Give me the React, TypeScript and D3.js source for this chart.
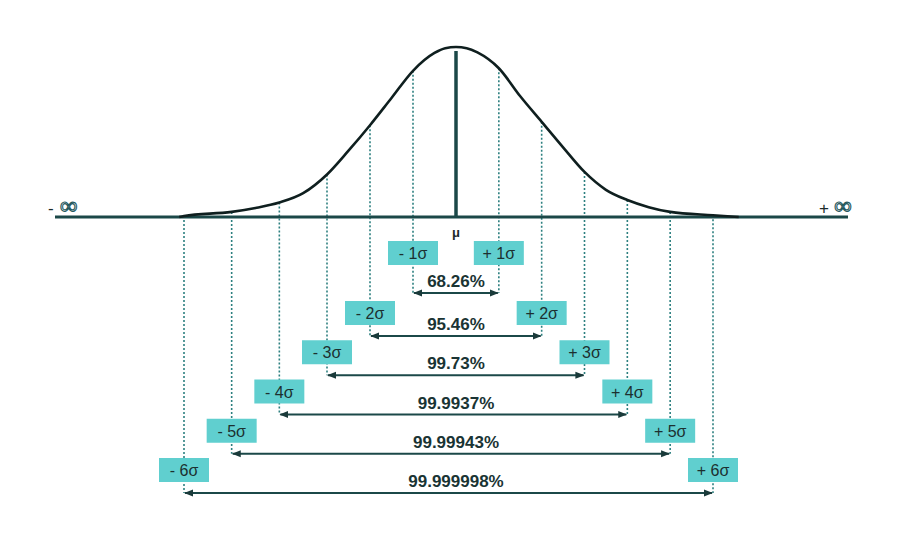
import React from "react";
import * as d3 from "d3";

// ---- data ----
const sigmaLevels = [1, 2, 3, 4, 5, 6];
const coverage = ["68.26%", "95.46%", "99.73%", "99.9937%", "99.99943%", "99.999998%"];
// bell curve: position in sigma units, relative height (peak = 1)
const curveSigma = [-6.1, -6, -5, -4.5, -4, -3.5, -3, -2.5, -2, -1.5, -1, -0.5, -0.25, 0, 0.25, 0.5, 1, 1.5, 2, 2.5, 3, 3.5, 4, 4.5, 5, 6, 6.6];
const curveHeight = [0, 0.006, 0.03, 0.053, 0.085, 0.14, 0.25, 0.39, 0.54, 0.70, 0.86, 0.965, 0.993, 1, 0.993, 0.968, 0.875, 0.71, 0.56, 0.41, 0.265, 0.16, 0.1, 0.058, 0.03, 0.01, 0];

const W = 900;
const H = 533;

export default function App() {
  const x = d3.scaleLinear().domain([-6, -3, 0, 6]).range([184, 327, 456, 713]);
  const y = d3.scaleLinear().domain([0, 1]).range([217, 47]);
  const rowY = d3.scaleLinear().domain([1, 2, 6]).range([293, 336, 493]);

  const pts: [number, number][] = curveSigma.map((s, i) => [s, curveHeight[i]]);
  const line = d3
    .line<[number, number]>()
    .x((d) => x(d[0]))
    .y((d) => y(d[1]))
    .curve(d3.curveMonotoneX);

  const heightAt = (s: number) => {
    const i = curveSigma.indexOf(s);
    return i >= 0 ? curveHeight[i] : 0;
  };

  const dark = "#1b4848";
  const teal = "#2d8080";
  const boxFill = "#60cfcf";
  const font = "'Liberation Sans', Arial, sans-serif";
  const boxW = 50;
  const boxH = 24;

  return (
    <svg width={W} height={H} style={{ display: "block", position: "absolute", left: 0, top: 0 }}>
      <defs>
        <marker id="ah" viewBox="0 0 10 10" refX="9" refY="5" markerWidth="9" markerHeight="9" markerUnits="userSpaceOnUse" orient="auto-start-reverse">
          <path d="M0,1 L10,5 L0,9 Z" fill="#1a3a3a" />
        </marker>
      </defs>
      <rect width={W} height={H} fill="#ffffff" />

      {/* dotted sigma lines */}
      {sigmaLevels.flatMap((k) =>
        [-k, k].map((s) => (
          <line
            key={"v" + s}
            x1={x(s)}
            x2={x(s)}
            y1={y(heightAt(s))}
            y2={rowY(k)}
            stroke={teal}
            strokeWidth={1.6}
            strokeDasharray="2,2"
          />
        ))
      )}

      {/* baseline */}
      <line x1={55} x2={848} y1={y(0)} y2={y(0)} stroke={dark} strokeWidth={3} />

      {/* curve */}
      <path d={line(pts) || ""} fill="none" stroke="#0f1f1f" strokeWidth={2.6} />

      {/* mean line */}
      <line x1={x(0)} x2={x(0)} y1={y(1) + 4} y2={y(0)} stroke={dark} strokeWidth={3.5} />

      {/* infinity labels */}
      <text x={48} y={214} fontFamily={font} fontSize={17} fill="#1a2a2a">
        -
        <tspan dx={6} fill="none" stroke="#24585e" strokeWidth={1.1} fontSize={25}>∞</tspan>
      </text>
      <text x={819} y={214} fontFamily={font} fontSize={17} fill="#1a2a2a">
        +
        <tspan dx={5} fill="none" stroke="#24585e" strokeWidth={1.1} fontSize={25}>∞</tspan>
      </text>
      <text x={x(0)} y={237} textAnchor="middle" fontFamily={font} fontSize={13} fontWeight="bold" fill="#1a2a2a">
        μ
      </text>

      {/* rows */}
      {sigmaLevels.map((k, i) => {
        const ay = rowY(k);
        const by = k === 1 ? ay - 40 : ay - 23;
        return (
          <g key={"r" + k}>
            <line
              x1={x(-k) + 1}
              x2={x(k) - 1}
              y1={ay}
              y2={ay}
              stroke={dark}
              strokeWidth={2}
              markerStart="url(#ah)"
              markerEnd="url(#ah)"
            />
            <text
              x={x(0)}
              y={ay - 6}
              textAnchor="middle"
              fontFamily={font}
              fontSize={17}
              fontWeight="bold"
              fill="#1a3434"
            >
              {coverage[i]}
            </text>
            {[-k, k].map((s) => (
              <g key={"b" + s}>
                <rect x={x(s) - boxW / 2} y={by - boxH / 2} width={boxW} height={boxH} fill={boxFill} />
                <text
                  x={x(s)}
                  y={by + 6}
                  textAnchor="middle"
                  fontFamily={font}
                  fontSize={16}
                  fill="#1c3030"
                >
                  {(s < 0 ? "- " : "+ ") + k + "σ"}
                </text>
              </g>
            ))}
          </g>
        );
      })}
    </svg>
  );
}
